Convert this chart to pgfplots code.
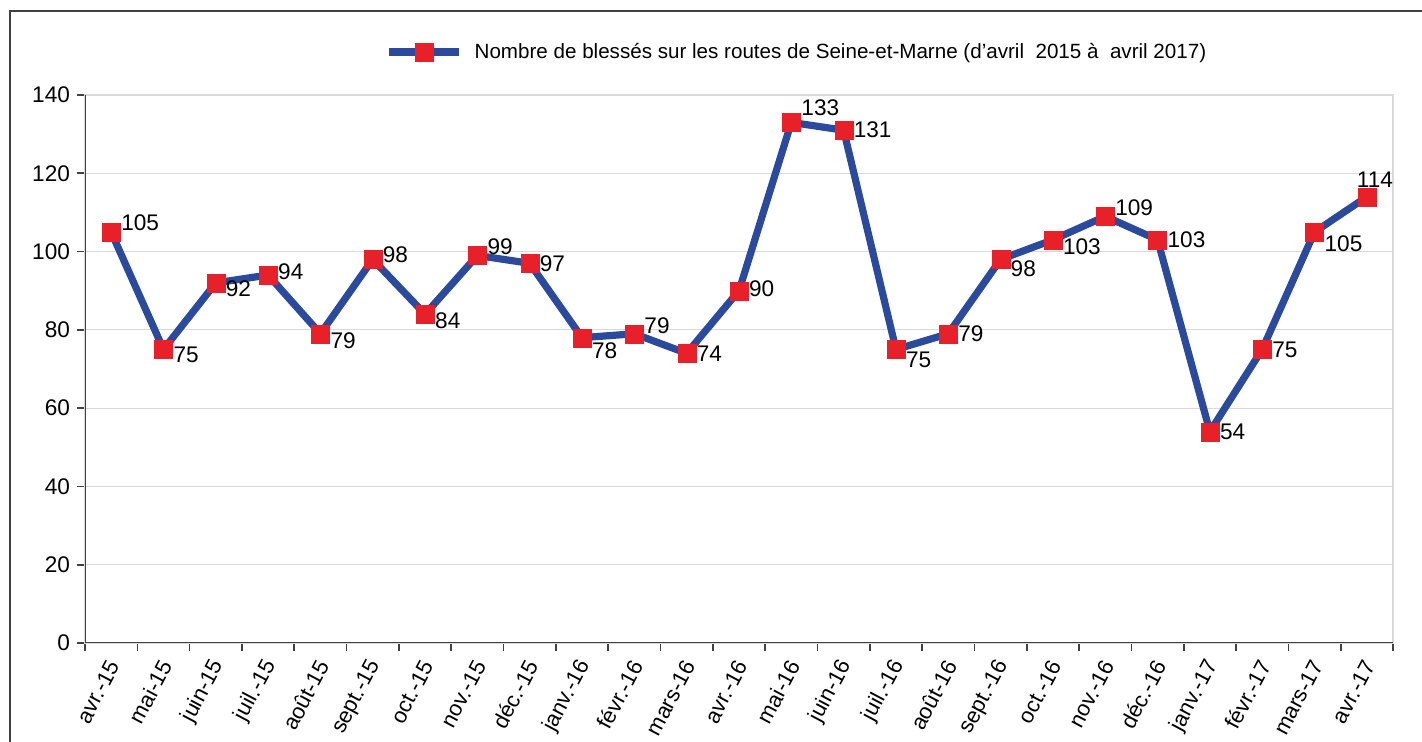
\documentclass[border=0pt]{standalone}
\usepackage{pgfplots}
\pgfplotsset{compat=1.18}
\usepackage{pgfplotstable}
\usepackage{fontspec}
\setmainfont{Liberation Sans}
\definecolor{lineblue}{HTML}{2B4A9B}
\definecolor{markred}{HTML}{E8202A}
\definecolor{axgray}{HTML}{404040}
\definecolor{gridgray}{HTML}{D9D9D9}

\pgfplotstableread{
x y dx dy
0 105 4 4.5
1 75 4 -2.5
2 92 4 -3
3 94 4 1.5
4 79 4 -3.5
5 98 4 2.5
6 84 4 -3.5
7 99 4 4.5
8 97 4 0
9 78 4 -6.5
10 79 4 4
11 74 4 0
12 90 4 1
13 133 4 7.5
14 131 4 0
15 75 4 -5
16 79 4 0
17 98 4 -4.5
18 103 4 -3.5
19 109 4 4.5
20 103 4 0
21 54 4 0
22 75 4 0
23 105 4 -6
24 114 -6 8.5
}\datatable

\begin{document}
\begin{tikzpicture}
\useasboundingbox (0,0) rectangle (711pt,371pt);
\draw[axgray, line width=1pt] (5pt,-5pt) -- (5pt,365.5pt) -- (720pt,365.5pt);
\begin{axis}[
  at={(42.5pt,49.5pt)}, anchor=south west,
  width=654pt, height=274pt, scale only axis,
  xmin=-0.5, xmax=24.5, ymin=0, ymax=140,
  ytick={0,20,...,140},
  ymajorgrids, grid style={gridgray, line width=0.6pt},
  xtick={-0.5,0.5,...,24.5}, xticklabels={},
  extra x ticks={0,1,...,24},
  extra x tick labels={avr.-15,mai-15,juin-15,juil.-15,août-15,sept.-15,oct.-15,nov.-15,déc.-15,janv.-16,févr.-16,mars-16,avr.-16,mai-16,juin-16,juil.-16,août-16,sept.-16,oct.-16,nov.-16,déc.-16,janv.-17,févr.-17,mars-17,avr.-17},
  extra x tick style={major tick length=0pt, grid=none},
  xticklabel style={rotate=62, anchor=east, inner sep=1pt, xshift=-6.6pt, yshift=-5.8pt, font=\fontsize{11}{13}\selectfont},
  tick align=outside, xtick pos=bottom, ytick pos=left,
  major tick length=4pt,
  every tick/.style={axgray, line width=0.8pt},
  axis line style={gridgray, line width=0.8pt},
  tick label style={font=\fontsize{11.5}{13}\selectfont, text=black},
  yticklabel style={font=\fontsize{11.3}{13}\selectfont},
  /pgf/number format/assume math mode=true,
  legend style={at={(axis description cs:0.2294,1.0785)}, anchor=west, draw=none, fill=none, inner sep=0pt, font=\fontsize{10.3}{12}\selectfont},
  legend image code/.code={\draw[mark repeat=2, mark phase=2, #1] plot coordinates {(0pt,0pt) (17.5pt,0pt) (35pt,0pt)};},
]
\draw[axgray, line width=1pt] (rel axis cs:0,1) -- (rel axis cs:0,0) -- (rel axis cs:1,0);
\addplot[lineblue, line width=3.6pt, mark=square*, mark size=4.5pt,
  mark options={solid, fill=markred, draw=markred, line width=0.1pt},
  nodes near coords, point meta=explicit,
  visualization depends on={\thisrow{dx} \as \dxv},
  visualization depends on={\thisrow{dy} \as \dyv},
  nodes near coords style={anchor=west, inner sep=1pt, font=\fontsize{11.3}{13}\selectfont, text=black, xshift=\dxv pt, yshift=\dyv pt},
] table[x=x, y=y, meta=y] {\datatable};
\addlegendentry{\hspace{4pt}Nombre de blessés sur les routes de Seine-et-Marne (d’avril\ \ 2015 à\ \ avril 2017)}
\end{axis}
\end{tikzpicture}
\end{document}
